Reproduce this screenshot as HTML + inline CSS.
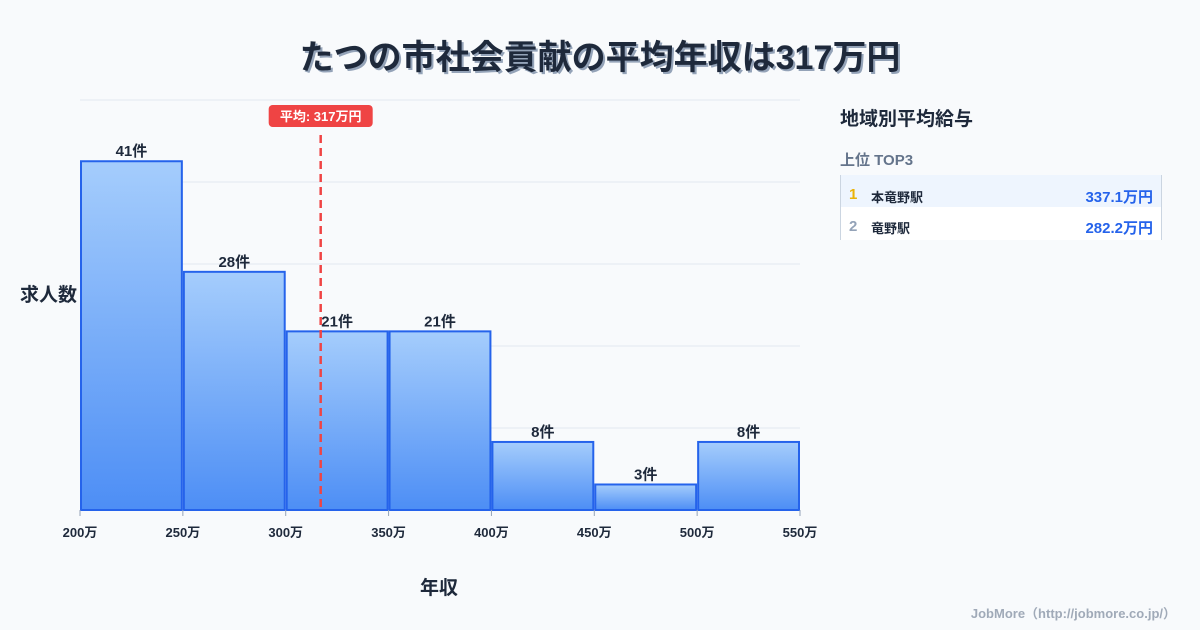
<!DOCTYPE html>
<html><head><meta charset="utf-8"><style>
body{margin:0;width:1200px;height:630px;background:#f8fafc;font-family:"Liberation Sans","Noto Sans CJK JP",sans-serif;overflow:hidden;position:relative}
.t{position:absolute;white-space:nowrap}
</style></head><body>
<div class="t" style="left:0;width:1200px;top:30px;text-align:center;font-size:34px;font-weight:bold;color:#1e293b;text-shadow:2px 2px 0 #94a3b8">たつの市社会貢献の平均年収は317万円</div>
<svg id="c" width="1200" height="630" style="position:absolute;left:0;top:0">
<defs><linearGradient id="g" x1="0" y1="0" x2="0" y2="1"><stop offset="0" stop-color="#a5cdfc"/><stop offset="1" stop-color="#4d8ef5"/></linearGradient></defs>
</svg>
<div class="t" style="left:20px;top:280px;font-size:19px;font-weight:bold;color:#1e293b">求人数</div>
<div class="t" style="left:420px;top:573px;font-size:19px;font-weight:bold;color:#1e293b">年収</div>
<div class="t" style="left:840px;top:104px;font-size:19px;font-weight:bold;color:#1e293b">地域別平均給与</div>
<div class="t" style="left:840px;top:149px;font-size:15px;font-weight:bold;color:#64748b">上位 TOP3</div>
<div style="position:absolute;left:840px;top:175px;width:320px;height:65px;border-left:1px solid #cbd5e1;border-right:1px solid #cbd5e1">
<div style="height:32px;background:#eef5fe;position:relative;font-size:13px;font-weight:bold">
<span class="t" style="left:8px;top:11px;color:#eab308;font-size:15px">1</span><span class="t" style="left:30px;top:12px;color:#1e293b">本竜野駅</span><span class="t" style="right:8px;top:11px;color:#2563eb;font-size:15px">337.1万円</span></div>
<div style="height:33px;background:#fff;position:relative;font-size:13px;font-weight:bold">
<span class="t" style="left:8px;top:11px;color:#94a3b8;font-size:15px">2</span><span class="t" style="left:30px;top:11px;color:#1e293b">竜野駅</span><span class="t" style="right:8px;top:10px;color:#2563eb;font-size:15px">282.2万円</span></div>
</div>
<div class="t" style="right:24px;top:603px;font-size:13px;font-weight:bold;color:#a0aab8">JobMore（http://jobmore.co.jp/）</div>
<script>
const binStarts=[200,250,300,350,400,450,500];
const counts=[41,28,21,21,8,3,8];
const xTicks=[200,250,300,350,400,450,500,550];
const meanValue=317;
const svg=document.getElementById('c');const NS='http://www.w3.org/2000/svg';
const x=v=>80+(v-200)*720/350;const y=v=>510-v*410/48.2;
function mk(t,a){const e=document.createElementNS(NS,t);for(const k in a)e.setAttribute(k,a[k]);svg.appendChild(e);return e;}
for(let i=0;i<=5;i++){const g=mk('line',{x1:80,x2:800,y1:510-82*i,y2:510-82*i,stroke:'#e2e8f0'});

}
counts.forEach((c,i)=>{const x0=x(binStarts[i])+1,x1=x(binStarts[i]+50)-1;
const r=mk('rect',{x:x0,y:y(c),width:x1-x0,height:510-y(c),fill:'url(#g)',stroke:'#2563eb','stroke-width':2});


const t=mk('text',{x:(x0+x1)/2,y:y(c)-5,'text-anchor':'middle','font-size':15,'font-weight':'bold',fill:'#1e293b'});t.textContent=c+'件';

});
xTicks.forEach(v=>{const l=mk('line',{x1:x(v),x2:x(v),y1:510,y2:516,stroke:'#94a3b8'});


const t=mk('text',{x:x(v),y:537,'text-anchor':'middle','font-size':13,'font-weight':'bold',fill:'#1e293b'});t.textContent=v+'万';

});
const mx=x(meanValue);
const ml=mk('line',{x1:mx,x2:mx,y1:135,y2:510,stroke:'#ef4444','stroke-width':2.5,'stroke-dasharray':'8,5'});


const mb=mk('rect',{x:mx-52,y:105,width:104,height:22,rx:4,fill:'#ef4444'});


const mt=mk('text',{x:mx,y:121,'text-anchor':'middle','font-size':13,'font-weight':'bold',fill:'#fff'});mt.textContent='平均: '+meanValue+'万円';


</script>
</body></html>
